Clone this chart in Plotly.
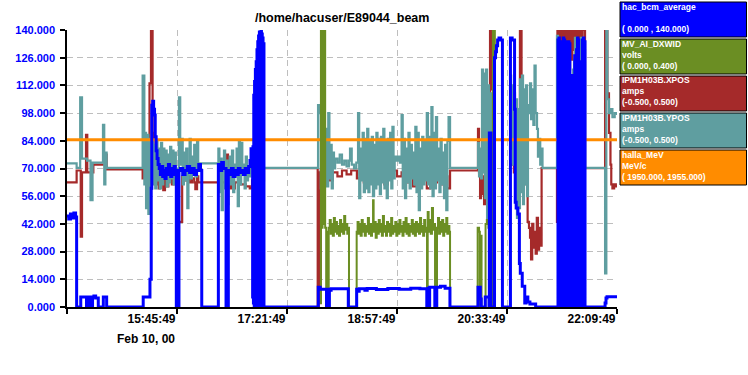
import pandas as pd
import plotly.graph_objects as go

# time origin of the strip chart (left edge of the x axis)
T0 = pd.Timestamp("2000-02-10 14:09:49")

# Each series: (minutes after 14:09:49, value on the shared 0-140 display scale)
# None marks a gap in the record.
BCM = [
    (0, 46), (1.5, 44.5), (3.0, 47), (4.5, 45), (6.0, 47.5), (7.5, 45.5), (8.4, 0),
    (12.0, 5), (17.0, 0), (17.8, 5), (20.0, 0), (20.6, 5), (21.8, 0), (22.3, 5), (23.5, 5.5), (25.0, 4.5), (27.3, 0),
    (31.7, 5), (34.6, 0), (66.5, 5), (72.4, 14), (73.5, 60), (74.0, 102), (74.8, 104), (75.6, 100), (76.4, 97),
    (77.0, 86), (77.8, 79), (78.6, 75), (79.5, 72), (80.5, 70), (81.5, 67), (82.5, 71), (83.5, 66), (84.5, 69),
    (85.5, 65), (86.5, 70), (87.5, 67), (88.5, 72), (89.5, 68), (90.5, 66), (91.5, 70), (92.5, 67), (93.5, 71),
    (94.5, 69), (95.4, 0), (97.7, 69),
    (99.0, 70), (101.0, 67), (103.0, 69), (105.0, 71), (107.0, 68), (109.0, 70), (111.0, 67), (113.0, 69),
    (115.0, 72), (116.5, 69), (117.6, 0),
    (132.1, 72), (133.5, 69), (135.0, 73), (136.5, 70), (138.8, 0), (140.8, 69), (142.0, 67), (143.5, 70),
    (145.0, 66), (146.5, 69), (148.0, 67), (149.5, 70), (151.0, 68), (152.5, 69), (154.0, 67), (155.5, 70),
    (157.0, 68), (158.5, 71), (159.7, 74), (160.6, 80), (161.5, 78),
    (162.0, 5), (162.3, 81), (162.7, 2), (163.0, 107), (163.4, 0), (163.7, 114), (164.1, 0), (164.4, 120),
    (164.8, 0), (165.1, 124), (165.5, 0), (165.8, 130), (166.2, 0), (166.5, 134), (166.9, 0), (167.2, 137),
    (167.6, 0), (167.9, 139), (168.3, 0), (168.6, 139), (169.0, 0), (169.3, 140), (169.7, 0), (170.0, 138),
    (170.4, 0), (170.7, 136), (171.1, 0), (171.4, 133), (171.9, 0),
    (219.3, 10), (221.0, 9), (226.5, 0), (227.0, 9), (228.0, 0), (229.0, 8.5), (230.5, 9.2), (245.5, 0),
    (252.8, 9), (254.0, 8), (255.0, 9.2), (260.0, 8.5), (262.0, 9.3), (270.0, 8.8), (280.0, 9.4), (290.0, 9.0),
    (300.0, 9.5), (308.0, 9.2), (314.0, 0), (315.2, 9.5), (316.0, 0), (316.5, 10), (321.0, 0), (322.7, 10),
    (326.0, 10.5), (330.0, 9.5), (334.2, 0),
    (358.7, 10), (360.7, 4), (361.5, 0), (365.0, 5), (368.3, 0), (368.6, 88), (370.0, 0), (373.1, 126),
    (374.0, 129), (374.8, 132), (375.8, 135), (377.0, 136), (378.5, 135), (380.0, 0),
    (387.0, 136), (388.5, 135), (390.6, 100), (391.2, 53), (392.0, 50), (393.5, 47), (394.8, 22), (395.6, 17),
    (397.3, 10.5), (399.5, 2), (400.6, 5), (402.2, 2.5), (404.0, 1.5), (409.0, 0),
    (428.5, 135), (428.9, 0), (429.3, 136), (429.7, 0), (430.1, 134), (430.5, 0), (430.9, 133), (431.2, 0),
    (433.1, 136), (433.5, 0), (433.9, 135), (434.3, 0), (434.7, 134), (435.1, 0), (435.5, 133), (435.8, 0),
    (437.7, 134), (438.1, 0), (438.5, 133), (438.9, 0), (439.3, 116), (439.7, 0), (440.1, 117), (440.5, 0),
    (440.9, 115), (441.2, 0),
    (443.1, 127), (443.5, 0), (443.9, 126), (444.3, 0), (444.7, 130), (445.1, 0), (445.5, 136), (445.9, 0),
    (446.3, 135), (446.6, 0),
    (448.3, 124), (448.7, 0), (449.1, 124), (449.5, 0), (449.9, 135), (450.3, 0), (450.7, 136), (451.1, 0),
    (451.5, 134), (452.1, 0),
    (469.6, 2), (470.4, 4.5), (471.3, 5.2), (480.0, 5.2),
]

DXWID = [
    (220.8, 2), (221.6, 140), (222.3, 40), (223.0, 140), (223.8, 42), (224.6, 140), (225.3, 40), (226.2, 0),
    (226.9, 38), (227.6, 0), (228.4, 40),
    (229.3, 44), (230.2, 37), (231.1, 42), (232.0, 36), (232.9, 45), (233.8, 38), (234.7, 43), (235.6, 37),
    (236.5, 41), (237.4, 36), (238.3, 44), (239.2, 38), (240.1, 42), (241.0, 37), (241.9, 46), (242.8, 39),
    (243.7, 42), (244.6, 37), (245.5, 40), (246.1, 0),
    (252.8, 38), (253.6, 43), (254.5, 37), (255.4, 42), (256.3, 36), (257.2, 44), (258.1, 38), (259.0, 42),
    (259.9, 36), (260.8, 41), (261.7, 38), (262.6, 45), (263.5, 37), (264.4, 42), (265.3, 36), (266.2, 41),
    (267.1, 54), (267.6, 38), (268.5, 43), (269.4, 35), (270.3, 42), (271.2, 37), (272.1, 44), (273.0, 38),
    (273.9, 42), (274.8, 36), (275.7, 46), (276.6, 38), (277.5, 41), (278.4, 36), (279.3, 43), (280.2, 38),
    (281.1, 42), (282.0, 36), (282.9, 45), (283.8, 37), (284.7, 41), (285.6, 38), (286.5, 43), (287.4, 36),
    (288.3, 42), (289.2, 37), (290.1, 44), (291.0, 38), (291.9, 41), (292.8, 36), (293.7, 43), (294.6, 38),
    (295.5, 45), (296.4, 37), (297.3, 42), (298.2, 36), (299.1, 41), (300.0, 38), (300.9, 44), (301.8, 37),
    (302.7, 42), (303.6, 36), (304.5, 43), (305.4, 38), (306.3, 42), (307.2, 37), (308.1, 45), (309.0, 38),
    (309.9, 41), (310.8, 36), (311.7, 44), (312.6, 38), (313.5, 40), (314.2, 0), (314.8, 48), (315.6, 38),
    (316.5, 44), (317.5, 37), (318.5, 50), (319.4, 39), (320.3, 42), (321.2, 0), (322.9, 40), (323.8, 45),
    (324.7, 37), (325.6, 43), (326.5, 38), (327.4, 44), (328.3, 36), (329.2, 42), (330.1, 38), (331.0, 45),
    (331.9, 37), (332.8, 41), (333.7, 38), (334.3, 0), (334.6, None),
    (358.0, 0), (358.4, 40), (359.6, 38), (360.3, 0), (360.8, 36), (361.8, 0), (365.3, 42), (366.4, 44),
    (367.8, 40), (368.5, 0), (371.3, 0), (371.7, 140), (372.8, 140), (373.4, 0), (373.8, 0), (374.0, None),
]

XPOS = [
    (0, 63), (8.4, 69), (12.0, 35.5), (13.1, 68), (16.6, 87), (17.7, 68), (23.0, 72), (33.5, 77), (34.6, 69.5),
    (66.0, 65), (67.5, 70), (70.0, 68), (72.0, 113), (73.3, 140), (74.7, 88), (75.5, 66), (77.0, 62), (78.5, 68),
    (80.0, 60), (81.0, 66), (82.5, 63), (84.0, 59), (85.5, 66), (87.0, 61), (88.5, 64), (90.0, 67), (91.5, 62),
    (93.0, 65), (94.5, 63), (97.7, 43), (100.5, 66), (103.0, 64), (105.0, 66), (107.0, 63), (109.0, 65),
    (111.0, 63), (112.0, 59.5), (113.5, 66), (114.6, 63), (133.5, 60), (134.5, 63), (139.6, 77), (140.5, 62),
    (142.0, 60), (143.5, 63), (145.0, 60), (146.5, 63), (151.0, 62), (156.0, 61), (159.5, 60), (161.5, 64),
    (171.9, 70.2),
    (218.8, 0), (219.7, 68), (220.6, 2), (221.5, 69), (224, 66), (226, 69), (229, 64), (232, 68), (236, 66),
    (240, 69), (244, 67), (248, 69), (253, 65), (256, 68), (259, 63), (262, 67), (266, 70), (270, 64), (273, 68),
    (277, 62), (280, 67), (284, 69), (288, 66), (292, 68), (296, 63), (299, 67), (302, 61), (305, 66), (308, 63),
    (311, 68), (314, 60), (317, 66), (320, 63), (323, 67), (326, 62), (329, 66), (332, 60), (334.3, 69),
    (358.7, 90), (359.6, 68), (360.5, 55), (361.3, 70), (362.2, 57), (363.1, 66), (364.0, 52), (364.8, 64),
    (365.7, 58), (366.6, 66), (367.5, 60), (368.3, 70), (369.2, 140), (370.1, 110), (371.0, 140), (371.8, 107),
    (372.7, 107), (373.0, None),
    (386.7, 72), (390.0, 68), (393.0, 70), (395.3, 140), (396.7, 113), (397.6, 104), (399.5, 100), (401.0, 62),
    (402.0, 43), (403.2, 40), (404.1, 35), (405.0, 24), (406.0, 42), (407.0, 30), (408.0, 38), (409.0, 27),
    (410.0, 45), (411.0, 29), (412.0, 40), (413.0, 31), (414.2, 70.2),
    (427.6, 43), (428.0, 140), (428.8, 112), (429.6, 140), (430.4, 118), (431.2, 140), (432.6, 130), (433.4, 140),
    (434.2, 122), (435.0, 140), (436.0, 128), (437.2, 140), (438.1, 120), (439.0, 140), (440.0, 125), (441.0, 140),
    (442.0, 130), (443.0, 140), (444.2, 110), (445.1, 140), (446.8, 118), (447.7, 140), (449.0, 120), (450.0, 140),
    (452.1, 70.2),
    (469.6, 140), (471.6, 108), (473.0, 88), (474.3, 72), (475.0, 62), (476.0, 60), (477.5, 62), (479.0, 61),
    (480.0, 61),
]

YPOS = [
    (0, 72.6), (8.4, 70.3), (11.5, 106), (13.1, 75), (17.5, 74), (20.5, 54), (22.3, 73), (31.4, 92), (32.5, 62),
    (33.5, 78), (34.6, 70.3),
    (66.0, 117), (67.5, 62), (68.1, 88), (69.0, 50), (70.0, 87), (71.0, 47), (72.0, 85), (73.0, 60), (74.0, 84),
    (75.0, 62), (76.0, 82), (77.0, 60), (78.0, 84), (79.0, 64), (80.0, 80), (81.0, 60), (82.0, 83), (83.0, 62),
    (84.0, 80), (85.0, 66), (86.0, 79), (87.0, 61), (88.0, 77), (89.0, 63), (90.0, 81), (91.0, 65), (92.0, 79),
    (93.0, 62), (94.0, 78), (95.0, 66), (96.0, 70), (97.7, 106), (98.8, 72), (100.0, 85), (101.0, 62), (102.0, 78),
    (103.0, 64), (104.0, 80), (105.0, 50), (106.0, 72), (107.0, 85), (108.0, 65), (109.0, 76), (110.0, 68),
    (111.0, 82), (112.0, 66), (113.5, 84), (114.5, 72.6),
    (132.1, 80), (133.0, 58), (134.0, 75), (135.0, 49), (136.0, 70), (137.0, 79), (138.0, 60), (139.0, 74),
    (140.0, 52), (141.0, 70), (142.0, 76), (143.0, 62), (144.0, 79), (145.0, 58), (146.0, 72), (147.0, 66),
    (148.0, 80), (149.0, 51), (150.0, 84), (151.0, 62), (152.0, 83), (153.0, 68), (154.0, 72), (155.0, 60),
    (156.0, 76), (157.0, 64), (158.0, 70), (159.0, 66), (160.0, 74), (162.0, 70.3),
    (219.1, 102), (220.5, 98), (221.5, 60), (222.5, 102), (223.4, 55), (224.3, 80), (225.2, 62), (226.0, 90),
    (227.0, 61), (228.0, 98), (229.0, 65), (230.0, 82), (231.0, 60), (232.0, 78), (233.0, 70), (234.0, 75),
    (236.0, 73), (238.0, 77), (240.0, 72), (242.0, 74), (244.0, 71), (246.0, 74), (247.0, 80), (248.5, 72),
    (250.5, 70), (252.5, 73), (254.0, 98), (255.0, 55), (256.0, 80), (257.0, 64), (258.0, 88), (259.0, 58),
    (260.0, 85), (261.0, 60), (262.0, 90), (263.0, 58), (264.0, 84), (265.0, 62), (266.0, 86), (267.0, 56),
    (268.0, 82), (269.0, 60), (270.0, 88), (271.0, 62), (272.0, 85), (273.0, 57), (274.0, 86), (275.0, 63),
    (276.0, 90), (277.0, 60), (278.0, 84), (279.0, 55), (280.0, 85), (281.0, 64), (282.0, 88), (283.0, 60),
    (284.0, 91), (285.0, 65), (286.0, 76), (287.5, 74), (289.0, 76), (290.5, 73), (292.0, 97), (293.0, 60),
    (294.0, 85), (295.0, 55), (296.0, 80), (297.0, 63), (298.0, 88), (299.0, 60), (300.0, 82), (301.0, 65),
    (302.0, 78), (303.0, 62), (304.0, 91), (305.0, 58), (306.0, 88), (307.0, 49), (308.0, 80), (309.0, 60),
    (310.0, 86), (311.0, 62), (312.0, 84), (313.0, 64), (314.0, 98), (315.0, 62), (316.0, 86), (317.0, 60),
    (318.0, 101), (319.0, 56), (320.0, 88), (321.0, 60), (322.0, 96), (323.0, 64), (324.0, 80), (325.0, 58),
    (326.0, 85), (327.0, 62), (328.0, 78), (329.0, 55), (330.0, 82), (331.0, 49), (332.0, 84), (333.0, 96),
    (334.3, 70.3),
    (358.7, 83), (359.6, 66), (360.5, 80), (361.3, 65), (362.2, 120), (363.1, 68), (364.0, 118), (364.8, 55),
    (365.7, 120), (366.6, 45), (367.5, 112), (368.3, 50), (369.2, 108), (370.1, 60), (371.0, 100), (372.0, 95),
    (372.7, 95), (373.0, None),
    (386.7, 117), (387.6, 80), (388.4, 112), (389.3, 72), (390.2, 108), (391.0, 60), (391.9, 105), (392.7, 45),
    (393.6, 100), (394.5, 50), (395.3, 115), (396.2, 58), (397.1, 117), (398.0, 52), (398.8, 110), (399.7, 62),
    (400.6, 112), (401.5, 56), (402.3, 98), (403.2, 102), (404.1, 113), (405.0, 95), (406.0, 110), (407.0, 92),
    (408.0, 122), (409.0, 98), (410.2, 90), (411.0, 76), (412.0, 85), (413.0, 72), (414.0, 80), (415.0, 70.3),
    (427.6, 137), (428.5, 75), (429.4, 130), (430.3, 100), (431.1, 125), (432.0, 110), (432.9, 100), (433.8, 78),
    (434.6, 95), (435.5, 85), (436.4, 90), (437.2, 120), (438.1, 90), (439.0, 62), (439.9, 85), (440.7, 110),
    (441.6, 120), (442.5, 125), (443.3, 136), (444.2, 124), (445.1, 128), (446.0, 118), (446.8, 115),
    (447.7, 105), (448.6, 136), (449.5, 110), (450.3, 122), (451.2, 130), (452.1, 70.3),
    (469.6, 17), (470.7, 140), (471.6, 105), (473.0, 98), (474.5, 100), (476.0, 96), (478.0, 98), (480.0, 97),
]

MEV = [(0, 84.5), (480, 84.5)]

X_TICK_MIN = [0, 96, 192, 288, 384, 480]
X_TICK_TEXT = ["", "15:45:49", "17:21:49", "18:57:49", "20:33:49", "22:09:49"]
Y_TICKS = [0, 14, 28, 42, 56, 70, 84, 98, 112, 126, 140]

SERIES = [  # drawing order: bottom to top
    ("IPM1H03B.XPOS", XPOS, "#A52A2A", 2.2),
    ("IPM1H03B.YPOS", YPOS, "#5F9EA0", 2.2),
    ("halla_MeV", MEV, "#FF8C00", 3),
    ("MV_AI_DXWID", DXWID, "#6B8E23", 2),
    ("hac_bcm_average", BCM, "#0000FF", 3),
]

LEGEND = [  # top to bottom boxes at the right
    ("#0000FF", ["hac_bcm_average", "", "( 0.000 , 140.000)"]),
    ("#6B8E23", ["MV_AI_DXWID", "volts", "( 0.000, 0.400)"]),
    ("#A52A2A", ["IPM1H03B.XPOS", "amps", "(-0.500, 0.500)"]),
    ("#5F9EA0", ["IPM1H03B.YPOS", "amps", "(-0.500, 0.500)"]),
    ("#FF8C00", ["halla_MeV", "MeV/c", "( 1950.000, 1955.000)"]),
]


def to_time(minutes):
    return T0 + pd.to_timedelta(minutes, unit="min")


fig = go.Figure()
for name, pairs, color, width in SERIES:
    xs = [to_time(t) for t, v in pairs]
    ys = [v for t, v in pairs]
    fig.add_trace(go.Scatter(
        x=xs, y=ys, mode="lines", name=name, line_shape="hv",
        line=dict(color=color, width=width), connectgaps=False,
        showlegend=False, hoverinfo="skip",
    ))

W, H = 748, 375
L, R, T, B = 67, 617, 30, 307


def xp(px):
    return (px - L) / (R - L)


def yp(py):
    return (B - py) / (B - T)


shapes = []
annotations = []
box_h = 35
for i, (color, lines) in enumerate(LEGEND):
    top = 2 + i * 37
    shapes.append(dict(type="rect", xref="paper", yref="paper",
                       x0=xp(620), x1=xp(746.5), y0=yp(top + box_h), y1=yp(top),
                       fillcolor=color, line=dict(color="black", width=1), layer="above"))
    text = "<br>".join(line if line else " " for line in lines)
    annotations.append(dict(xref="paper", yref="paper", x=xp(620.5), y=yp(top - 1.5),
                            xanchor="left", yanchor="top", align="left", showarrow=False, text=text,
                            borderpad=0,
                            font=dict(family="Liberation Sans", size=8.5, color="white", weight="bold")))

annotations.append(dict(xref="paper", yref="paper", x=0.5, y=yp(18), xanchor="center", yanchor="middle",
                        showarrow=False, text="/home/hacuser/E89044_beam",
                        font=dict(family="Liberation Sans", size=12.5, color="black", weight="bold")))
annotations.append(dict(xref="x", yref="paper", x=to_time(X_TICK_MIN[1]), y=yp(338.5),
                        xanchor="right", yanchor="middle", showarrow=False, text="Feb 10, 00",
                        font=dict(family="Liberation Sans", size=12, color="black", weight="bold")))

grid = dict(showgrid=True, gridcolor="#BEBEBE", gridwidth=1, griddash="6px,4px")

fig.update_layout(
    width=W, height=H, autosize=False,
    margin=dict(l=L, r=W - R, t=T, b=H - B, pad=0),
    paper_bgcolor="white", plot_bgcolor="white",
    shapes=shapes, annotations=annotations,
    xaxis=dict(type="date", range=[to_time(0), to_time(480)], tickvals=[to_time(m) for m in X_TICK_MIN],
               ticktext=X_TICK_TEXT, ticklabelposition="outside left", ticks="outside", ticklen=5,
               tickcolor="black", tickwidth=1.5, showline=True, linecolor="black", linewidth=1.5,
               zeroline=False, tickfont=dict(family="Liberation Sans", size=12, color="black", weight="bold"),
               **grid),
    yaxis=dict(range=[0, 140], tickvals=Y_TICKS, tickformat=".3f", ticks="outside", ticklen=5,
               tickcolor="black", tickwidth=1.5, showline=True, linecolor="black", linewidth=1.5,
               zeroline=False, ticklabelstandoff=3,
               tickfont=dict(family="Liberation Sans", size=11, color="#0000FF", weight="bold"),
               **grid),
)

fig.write_html("out.html")
